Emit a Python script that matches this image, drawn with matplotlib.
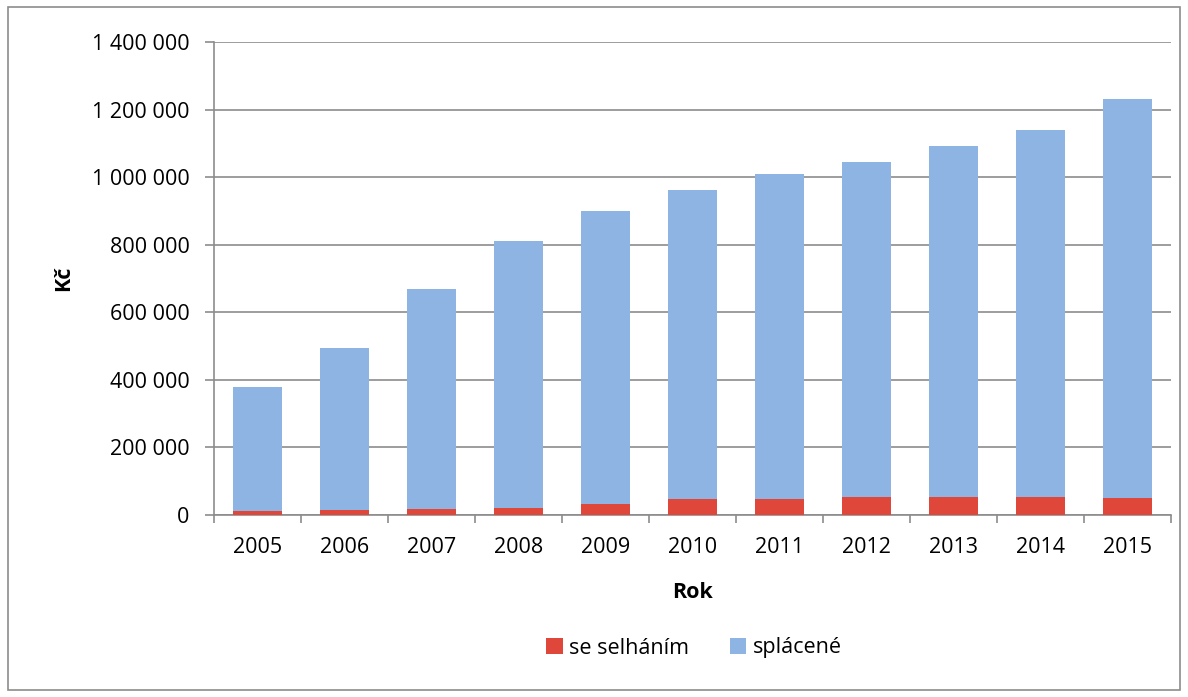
import matplotlib.pyplot as plt
import matplotlib.ticker as ticker
from matplotlib.patches import Rectangle
import numpy as np

years = ["2005", "2006", "2007", "2008", "2009", "2010", "2011", "2012", "2013", "2014", "2015"]
default = [11000, 14000, 17000, 20000, 33000, 47000, 48000, 53000, 53000, 52000, 49000]
total = [380000, 495000, 670000, 810000, 899000, 961000, 1009000, 1046000, 1092000, 1140000, 1232000]
repaid = [t - d for t, d in zip(total, default)]

RED = "#DF473B"
BLUE = "#8EB4E3"
GREY = "#8C8C8C"

plt.rcParams.update({"font.family": ["Open Sans", "DejaVu Sans"], "font.size": 15.5})

fig = plt.figure(figsize=(11.88, 6.97), dpi=100)
ax = fig.add_axes([214 / 1188, 1 - 515 / 697, (1171 - 214) / 1188, (515 - 42) / 697])

x = np.arange(len(years))
ax.bar(x, default, width=0.57, color=RED, label="se selháním", zorder=3)
ax.bar(x, repaid, width=0.57, bottom=default, color=BLUE, label="splácené", zorder=3)

ax.set_xlim(-0.5, len(years) - 0.5)
ax.set_ylim(0, 1400000)
ax.yaxis.set_major_locator(ticker.MultipleLocator(200000))
ax.yaxis.set_major_formatter(ticker.FuncFormatter(lambda v, p: f"{int(v):,}".replace(",", " ")))
ax.grid(axis="y", color=GREY, linewidth=1.2, zorder=0)

ax.set_xticks(x)
ax.set_xticklabels(years)
ax.xaxis.set_minor_locator(ticker.FixedLocator(np.arange(-0.5, len(years), 1)))
ax.tick_params(axis="x", which="major", length=0, pad=16)
ax.tick_params(axis="x", which="minor", length=6, width=1.2, color=GREY, direction="out")
ax.tick_params(axis="y", length=6.5, width=1.2, color=GREY, pad=11)

for s in ["top", "right"]:
    ax.spines[s].set_visible(False)
for s in ["left", "bottom"]:
    ax.spines[s].set_color(GREY)
    ax.spines[s].set_linewidth(1.2)

ax.set_xlabel("Rok", fontweight="bold", labelpad=17)
ax.set_ylabel("Kč", fontweight="bold", labelpad=13)

ax.legend(loc="center", bbox_to_anchor=(694 / 1188, 1 - 648 / 697), bbox_transform=fig.transFigure,
          ncol=2, frameon=False, handlelength=0.75, handleheight=0.75, handletextpad=0.3, columnspacing=1.9)

fig.patches.append(Rectangle((8 / 1188, 7 / 697), 1172 / 1188, 683 / 697, transform=fig.transFigure,
                             fill=False, edgecolor=GREY, linewidth=1.2))

fig.savefig("out.png", dpi=100)
